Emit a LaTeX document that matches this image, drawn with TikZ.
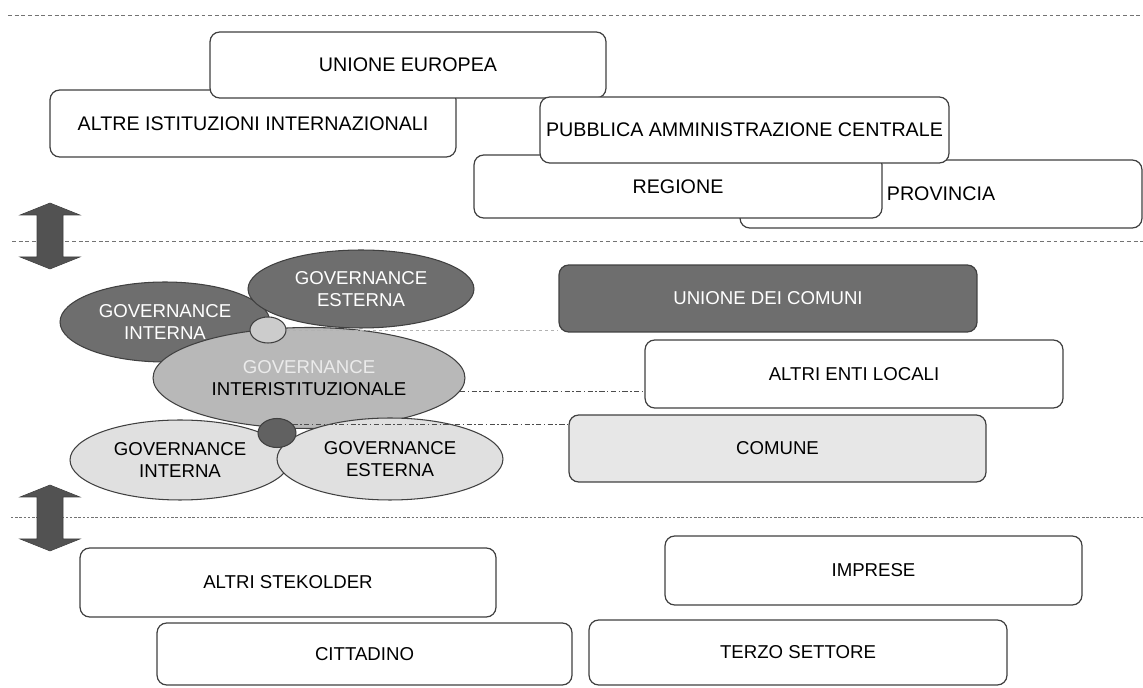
\documentclass[tikz,border=0pt]{standalone}
\usepackage{fontspec}
\setmainfont{Liberation Sans}
\usetikzlibrary{shapes.geometric}
\definecolor{scuro}{gray}{0.43}
\definecolor{medio}{gray}{0.72}
\definecolor{chiaro}{gray}{0.88}
\tikzset{
	ente/.style={draw=black!75, line width=0.7pt, rounded corners=5.5pt, fill=white, inner sep=0pt},
	alto/.style={ente, font=\fontsize{11.2}{13.4}\selectfont},
	gov/.style={ellipse, draw=black!75, line width=0.6pt, inner sep=0pt, align=center},
	separa/.style={black!55, line width=0.5pt, dash pattern=on 2.2pt off 1.6pt},
	punteggio/.style={black!70, line width=0.5pt, dash pattern=on 3pt off 1.4pt on 0.8pt off 1.4pt},
	freccia/.style={fill=black!68, draw=black!75, line width=0.3pt}
}
\begin{document}
\begin{tikzpicture}[x=0.02cm, y=-0.02cm, every node/.append style={font=\fontsize{10.6}{12.6}\selectfont}]
	\useasboundingbox (0,0) rectangle (1143,688);
	% livelli
	\draw[separa] (8,15) -- (1143,15);
	\draw[separa] (12,241) -- (1143,241);
	\draw[separa, dash pattern=on 1.4pt off 1pt] (11,517) -- (1143,517);
	\foreach \ya/\yb in {203/269, 485/551}
		\draw[freccia] (50,\ya) -- (80,{\ya+12}) -- (63,{\ya+12}) -- (63,{\yb-12}) -- (80,{\yb-12}) -- (50,\yb) -- (20,{\yb-12}) -- (37,{\yb-12}) -- (37,{\ya+12}) -- (20,{\ya+12}) -- cycle;
	% livello sovralocale
	\node[alto, minimum width=8.12cm, minimum height=1.34cm] (aii) at (253,123.5) {ALTRE ISTITUZIONI INTERNAZIONALI};
	\node[alto, minimum width=7.92cm, minimum height=1.32cm] (ue) at (408,65) {UNIONE EUROPEA};
	\node[alto, minimum width=8.04cm, minimum height=1.36cm] (prov) at (941,194) {PROVINCIA};
	\node[alto, minimum width=8.16cm, minimum height=1.26cm] (reg) at (678,186.5) {REGIONE};
	\node[alto, minimum width=8.18cm, minimum height=1.32cm] (pac) at (744.5,130) {PUBBLICA AMMINISTRAZIONE CENTRALE};
	% livello locale
	\node[ente, fill=scuro, text=white, minimum width=8.36cm, minimum height=1.34cm] (udc) at (768,298.5) {UNIONE DEI COMUNI};
	\node[ente, minimum width=8.36cm, minimum height=1.36cm] (ael) at (854,374) {ALTRI ENTI LOCALI};
	\node[ente, fill=chiaro!80, minimum width=8.34cm, minimum height=1.34cm] (com) at (777.5,448.5) {COMUNE};
	% governance
	\node[gov, fill=scuro, text=white, minimum width=4.2cm, minimum height=1.6cm] (git) at (165,322) {GOVERNANCE\\INTERNA};
	\node[gov, fill=scuro, text=white, minimum width=4.52cm, minimum height=1.56cm] (get) at (361,289) {GOVERNANCE\\ESTERNA};
	\node[gov, fill=medio, minimum width=6.24cm, minimum height=2.02cm] (gii) at (309,378) {{\color{black!8}GOVERNANCE}\\INTERISTITUZIONALE};
	\node[gov, fill=chiaro, minimum width=4.4cm, minimum height=1.6cm] (gib) at (180,460) {GOVERNANCE\\INTERNA};
	\node[gov, fill=chiaro, minimum width=4.52cm, minimum height=1.64cm] (geb) at (390,459) {GOVERNANCE\\ESTERNA};
	\node[gov, fill=black!20, minimum width=0.72cm, minimum height=0.52cm] (lt) at (268,330) {};
	\node[gov, fill=black!62, minimum width=0.76cm, minimum height=0.58cm] (dk) at (277,433) {};
	\draw[black!30, line width=0.5pt, dash pattern=on 2pt off 1.5pt] (lt.east) -- (lt.east -| udc.west);
	\draw[punteggio] (gii.-5) -- (gii.-5 -| ael.west);
	\draw[punteggio] (dk.30) -- (dk.30 -| com.west);
	% livello sociale
	\node[ente, minimum width=8.32cm, minimum height=1.38cm] (ast) at (288,582.5) {ALTRI STEKOLDER};
	\node[ente, minimum width=8.34cm, minimum height=1.38cm] (imp) at (873.5,570.5) {IMPRESE};
	\node[ente, minimum width=8.3cm, minimum height=1.24cm] (cit) at (364.5,654) {CITTADINO};
	\node[ente, minimum width=8.36cm, minimum height=1.3cm] (ts) at (798,652.5) {TERZO SETTORE};
\end{tikzpicture}
\end{document}
